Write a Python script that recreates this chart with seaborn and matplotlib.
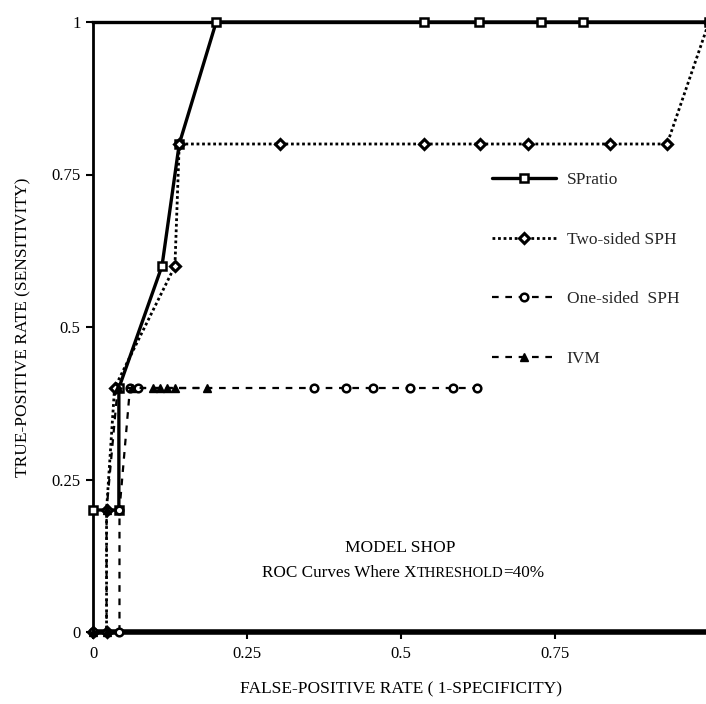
import matplotlib
matplotlib.use("Agg")
import matplotlib.pyplot as plt
import seaborn as sns
import pandas as pd
from matplotlib.offsetbox import TextArea, HPacker, AnchoredOffsetbox

# ---- data ----
spratio_fpr = [0.0, 0.042, 0.042, 0.112, 0.140, 0.200, 0.537, 0.627, 0.727, 0.795, 1.0]
spratio_tpr = [0.2, 0.2, 0.4, 0.6, 0.8, 1.0, 1.0, 1.0, 1.0, 1.0, 1.0]

two_fpr = [0.0, 0.022, 0.022, 0.035, 0.133, 0.140, 0.304, 0.538, 0.628, 0.706, 0.839, 0.932, 1.0]
two_tpr = [0.0, 0.0, 0.2, 0.4, 0.6, 0.8, 0.8, 0.8, 0.8, 0.8, 0.8, 0.8, 1.0]

one_fpr = [0.0, 0.043, 0.043, 0.060, 0.073, 0.358, 0.410, 0.455, 0.515, 0.585, 0.624]
one_tpr = [0.0, 0.0, 0.2, 0.4, 0.4, 0.4, 0.4, 0.4, 0.4, 0.4, 0.4]

ivm_fpr = [0.0, 0.022, 0.022, 0.040, 0.063, 0.098, 0.109, 0.120, 0.133, 0.185]
ivm_tpr = [0.0, 0.0, 0.2, 0.4, 0.4, 0.4, 0.4, 0.4, 0.4, 0.4]

series_names = ["SPratio", "Two-sided SPH", "One-sided  SPH", "IVM"]
x_ticks = [0, 0.25, 0.5, 0.75]
x_ticklabels = ["0", "0.25", "0.5", "0.75"]
y_ticks = [0, 0.25, 0.5, 0.75, 1.0]
y_ticklabels = ["0", "0.25", "0.5", "0.75", "1"]

sns.set_theme(style="white")
plt.rcParams['font.family'] = ['Liberation Serif', 'DejaVu Serif']

W, H = 706, 704
fig = plt.figure(figsize=(W / 100, H / 100), dpi=100)
ax = fig.add_axes([93 / W, 1 - 632 / H, 616 / W, 610 / H])

styles = [
    dict(fpr=spratio_fpr, tpr=spratio_tpr, ls="-", lw=2.4, marker="s", ms=6, mfc="white", mew=1.8),
    dict(fpr=two_fpr, tpr=two_tpr, ls=(0, (1, 1)), lw=2.0, marker="D", ms=5, mfc="white", mew=2.2),
    dict(fpr=one_fpr, tpr=one_tpr, ls=(0, (3, 3)), lw=1.6, marker="o", ms=5.5, mfc="white", mew=1.8),
    dict(fpr=ivm_fpr, tpr=ivm_tpr, ls=(0, (3, 3)), lw=1.6, marker="^", ms=6, mfc="black", mew=1.0),
]

for name, st in zip(series_names, styles):
    df = pd.DataFrame({"fpr": st["fpr"], "tpr": st["tpr"]})
    sns.lineplot(data=df, x="fpr", y="tpr", sort=False, estimator=None, ax=ax,
                 color="black", linestyle=st["ls"], linewidth=st["lw"],
                 marker=st["marker"], markersize=st["ms"],
                 markerfacecolor=st["mfc"], markeredgecolor="black",
                 markeredgewidth=st["mew"], label=name, clip_on=False, zorder=3)

ax.set_xlim(0, 1)
ax.set_ylim(0, 1)
ax.set_xticks(x_ticks)
ax.set_xticklabels(x_ticklabels)
ax.set_yticks(y_ticks)
ax.set_yticklabels(y_ticklabels)
ax.tick_params(axis="both", direction="out", length=5, width=1.5, color="black",
               labelsize=12, labelcolor="black", bottom=True, left=True, pad=4)
ax.tick_params(axis="x", pad=5)

for side in ["left", "top", "bottom"]:
    ax.spines[side].set_visible(True)
    ax.spines[side].set_color("black")
    ax.spines[side].set_zorder(2)
ax.spines["left"].set_linewidth(2.0)
ax.spines["top"].set_linewidth(2.4)
ax.spines["bottom"].set_linewidth(4.0)
ax.spines["right"].set_visible(False)

ax.set_xlabel("FALSE-POSITIVE RATE ( 1-SPECIFICITY)", fontsize=12.5, color="black", labelpad=14)
ax.set_ylabel("TRUE-POSITIVE RATE (SENSITIVITY)", fontsize=12.5, color="black", labelpad=14)

fig.text(400 / W, 1 - 548 / H, "MODEL SHOP", ha="center", va="center", fontsize=12.5, color="black")

parts = [
    TextArea("ROC Curves Where X", textprops=dict(fontsize=12.3, color="black")),
    TextArea("THRESHOLD", textprops=dict(fontsize=10.5, color="black")),
    TextArea("=40%", textprops=dict(fontsize=12.3, color="black")),
]
packed = HPacker(children=parts, align="baseline", pad=0, sep=0)
anch = AnchoredOffsetbox(loc="center", child=packed, pad=0, borderpad=0, frameon=False,
                         bbox_to_anchor=(403 / W, 1 - 573 / H), bbox_transform=fig.transFigure)
fig.add_artist(anch)

leg = ax.legend(loc="upper left", bbox_to_anchor=(492 / W, 1 - 172 / H), bbox_transform=fig.transFigure,
                frameon=False, fontsize=12.5, handlelength=3.7, handletextpad=0.6,
                labelspacing=2.5, borderpad=0, borderaxespad=0)

fig.savefig("out.png", dpi=100, facecolor="white")
